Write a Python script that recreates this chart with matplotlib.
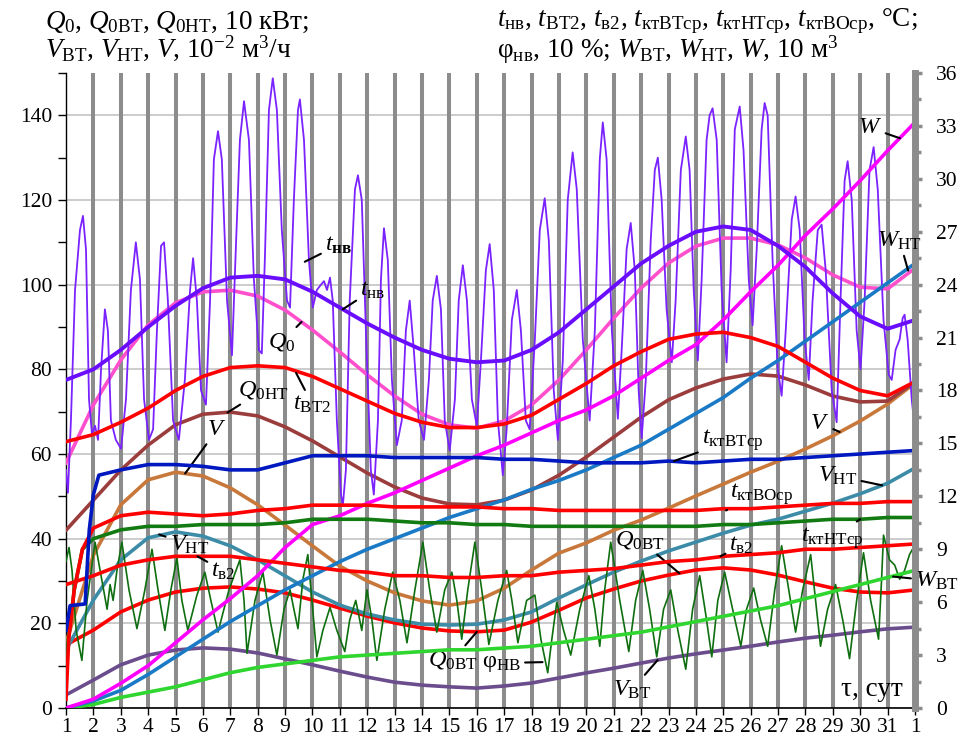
import numpy as np
import matplotlib.pyplot as plt
from matplotlib.ticker import MultipleLocator

plt.rcParams['font.family'] = ['Liberation Serif', 'DejaVu Serif']
plt.rcParams['mathtext.fontset'] = 'custom'
plt.rcParams['mathtext.rm'] = 'Liberation Serif'
plt.rcParams['mathtext.it'] = 'Liberation Serif:italic'
plt.rcParams['mathtext.bf'] = 'Liberation Serif:bold'

# сутки месяца (1 ... 31, далее 1-е число следующего)
days = list(range(1, 33))
day_labels = [str(d) for d in range(1, 32)] + ['1']

# ---- левая ось: Q (10 кВт), V (10^-2 м3/ч) ----
Q0 = [57.9, 71.6, 82.2, 90.5, 95.7, 98.3, 98.7, 97.3, 94.0, 89.3, 84.1, 78.7, 73.7, 69.4, 66.9, 66.1,
      67.8, 71.6, 77.5, 84.6, 92.1, 99.2, 105.1, 109.1, 111.0, 111.0, 109.4, 106.3, 102.3, 99.4, 99.0, 103.9]
Q0_NT = [42.0, 49.1, 56.2, 62.1, 66.9, 69.4, 69.9, 69.0, 66.4, 63.1, 59.3, 55.5, 52.2, 49.6, 48.2, 48.0,
         49.1, 51.5, 55.0, 59.3, 64.0, 68.7, 72.8, 75.6, 77.7, 78.9, 78.4, 76.3, 73.7, 72.3, 72.5, 77.0]
Q0_VT = [14.9, 18.4, 22.7, 25.5, 27.4, 28.3, 28.6, 28.1, 27.2, 25.5, 23.6, 21.7, 20.1, 18.9, 18.2, 18.0,
         18.4, 20.3, 23.1, 26.0, 28.1, 30.0, 31.4, 32.6, 33.1, 32.6, 31.4, 29.8, 28.3, 27.4, 27.2, 27.9]
V = [15.4, 36.1, 48.0, 53.9, 55.7, 54.8, 52.0, 48.0, 43.2, 38.3, 33.5, 30.0, 27.2, 25.3, 24.3, 25.3,
     28.3, 32.6, 36.6, 39.0, 42.0, 44.4, 47.2, 50.1, 52.9, 55.7, 58.3, 61.2, 64.3, 67.8, 71.8, 76.8]
V_NT = [13.7, 25.5, 35.0, 40.2, 41.6, 40.6, 38.3, 35.0, 31.2, 27.4, 24.3, 22.2, 20.8, 19.8, 19.6, 19.8,
        20.8, 22.7, 26.0, 29.1, 32.1, 34.7, 37.1, 39.2, 41.3, 43.2, 44.6, 46.5, 48.4, 50.6, 53.1, 56.7]
V_VT = [3.1, 6.6, 10.2, 12.5, 13.7, 14.2, 13.9, 13.0, 11.6, 10.2, 8.7, 7.3, 6.1, 5.4, 5.0, 4.7,
        5.2, 5.9, 7.1, 8.3, 9.4, 10.6, 11.8, 12.8, 13.7, 14.6, 15.6, 16.5, 17.2, 18.0, 18.7, 19.1]

# ---- правая ось: температуры (°C), φ (10 %), W (10 м3) ----
t_nv_avg = [18.6, 19.2, 20.3, 21.6, 22.8, 23.8, 24.4, 24.5, 24.3, 23.6, 22.7, 21.8, 21.0, 20.3, 19.8, 19.6,
            19.7, 20.3, 21.3, 22.6, 23.9, 25.2, 26.2, 27.0, 27.3, 27.1, 26.2, 25.0, 23.5, 22.2, 21.5, 22.0]
t_VT2 = [15.1, 15.5, 16.2, 17.0, 18.0, 18.8, 19.3, 19.4, 19.3, 18.8, 18.1, 17.4, 16.7, 16.2, 15.9, 15.9,
         16.1, 16.6, 17.5, 18.4, 19.4, 20.2, 20.9, 21.2, 21.3, 21.0, 20.5, 19.6, 18.7, 18.0, 17.7, 18.5]
t_v2 = [7.0, 7.5, 8.1, 8.4, 8.6, 8.6, 8.6, 8.4, 8.2, 8.0, 7.8, 7.7, 7.5, 7.5, 7.4, 7.4,
        7.5, 7.5, 7.7, 7.8, 7.9, 8.1, 8.3, 8.4, 8.6, 8.7, 8.8, 9.0, 9.0, 9.1, 9.2, 9.3]
W_VT = [0.0, 0.2, 0.6, 0.9, 1.2, 1.6, 2.0, 2.3, 2.5, 2.7, 2.9, 3.0, 3.1, 3.2, 3.3, 3.3,
        3.4, 3.5, 3.7, 3.9, 4.1, 4.3, 4.6, 4.9, 5.2, 5.5, 5.8, 6.2, 6.6, 7.0, 7.4, 7.8]
W_NT = [0.0, 0.4, 1.0, 1.9, 2.9, 3.9, 4.9, 5.8, 6.7, 7.5, 8.3, 9.0, 9.6, 10.2, 10.8, 11.3,
        11.8, 12.4, 12.9, 13.5, 14.2, 14.9, 15.8, 16.7, 17.6, 18.7, 19.7, 20.8, 21.9, 23.0, 24.1, 25.2]
W = [0.0, 0.5, 1.4, 2.4, 3.7, 5.0, 6.2, 7.5, 9.1, 10.4, 10.9, 11.6, 12.2, 12.9, 13.6, 14.3,
     14.9, 15.6, 16.3, 16.9, 17.7, 18.7, 19.7, 20.6, 22.0, 23.6, 25.1, 26.8, 28.3, 29.9, 31.6, 33.2]

# средние температуры теплоносителя в контурах (начало - выход на режим)
t_kt_VT_days = [1, 1.15, 1.7, 1.85, 2, 2.2] + list(range(3, 33))
t_kt_VT = [4.4, 5.8, 5.9, 10.1, 12.1, 13.2, 13.5, 13.8, 13.8, 13.7, 13.5, 13.5, 13.9, 14.3, 14.3, 14.3,
           14.2, 14.2, 14.2, 14.2, 14.1, 14.1, 14.0, 13.9, 13.9, 13.9, 14.0, 13.9, 14.0, 14.1, 14.1, 14.2,
           14.3, 14.4, 14.5, 14.6]
t_kt_VO_days = [1, 1.1, 1.3, 1.6, 2] + list(range(3, 33))
t_kt_VO = [0.5, 3.9, 6.7, 9.0, 10.2, 10.9, 11.1, 11.0, 10.9, 11.0, 11.2, 11.3, 11.5, 11.5, 11.5, 11.4,
           11.4, 11.4, 11.4, 11.3, 11.3, 11.2, 11.2, 11.2, 11.2, 11.2, 11.2, 11.3, 11.3, 11.4, 11.5, 11.6,
           11.6, 11.7, 11.7]
t_kt_NT_days = [1, 1.3, 1.6, 2] + list(range(3, 33))
t_kt_NT = [2.7, 6.7, 9.0, 9.6, 10.1, 10.3, 10.3, 10.4, 10.4, 10.4, 10.5, 10.7, 10.7, 10.7, 10.6, 10.5,
           10.5, 10.4, 10.4, 10.3, 10.3, 10.3, 10.3, 10.3, 10.3, 10.3, 10.4, 10.4, 10.5, 10.6, 10.7, 10.7,
           10.8, 10.8]

# температура наружного воздуха (экстремумы и промежуточные точки)
t_nv_time = [1.00, 1.07, 1.18, 1.33, 1.51, 1.62, 1.73, 1.84, 1.95, 2.06, 2.17, 2.28, 2.42, 2.53, 2.64, 2.82,
             3.01, 3.19, 3.37, 3.55, 3.70, 3.85, 4.03, 4.18, 4.32, 4.47, 4.58, 4.72, 4.91, 5.12, 5.34, 5.53,
             5.64, 5.78, 5.93, 6.11, 6.26, 6.40, 6.55, 6.69, 6.88, 7.06, 7.20, 7.35, 7.50, 7.68, 7.86, 8.04,
             8.15, 8.26, 8.41, 8.55, 8.70, 8.88, 9.07, 9.18, 9.32, 9.47, 9.54, 9.69, 9.87, 10.01, 10.16, 10.31,
             10.42, 10.53, 10.64, 10.74, 10.89, 11.04, 11.11, 11.22, 11.36, 11.55, 11.66, 11.80, 11.95, 12.13,
             12.24, 12.39, 12.50, 12.61, 12.75, 12.90, 13.08, 13.26, 13.41, 13.55, 13.70, 13.88, 14.07, 14.25,
             14.39, 14.54, 14.69, 14.83, 15.01, 15.20, 15.34, 15.49, 15.64, 15.82, 16.00, 16.15, 16.33, 16.47,
             16.62, 16.77, 16.95, 17.09, 17.28, 17.46, 17.61, 17.79, 17.93, 18.12, 18.30, 18.48, 18.63, 18.81,
             18.96, 19.14, 19.32, 19.50, 19.65, 19.87, 20.12, 20.31, 20.49, 20.60, 20.74, 20.93, 21.15, 21.29,
             21.47, 21.62, 21.77, 21.91, 22.02, 22.17, 22.35, 22.50, 22.61, 22.75, 22.93, 23.12, 23.26, 23.45,
             23.63, 23.77, 23.92, 24.07, 24.21, 24.39, 24.50, 24.61, 24.76, 24.94, 25.12, 25.27, 25.42, 25.60,
             25.74, 25.93, 26.07, 26.22, 26.40, 26.51, 26.62, 26.80, 26.99, 27.13, 27.28, 27.50, 27.64, 27.79,
             27.97, 28.12, 28.26, 28.45, 28.59, 28.74, 28.96, 29.14, 29.28, 29.43, 29.54, 29.69, 29.87, 30.01,
             30.16, 30.34, 30.49, 30.64, 30.85, 31.04, 31.15, 31.29, 31.44, 31.55, 31.62, 31.73, 31.88, 31.99]
t_nv = [13.5, 12.2, 16.3, 23.7, 27.1, 27.9, 26.0, 17.5, 15.5, 16.0, 15.2, 19.2, 22.6, 21.4, 16.3, 15.2,
        14.7, 17.5, 23.7, 26.4, 24.3, 17.5, 15.2, 15.8, 21.4, 26.2, 26.4, 23.1, 16.3, 15.2, 18.6, 23.7,
        25.5, 23.1, 18.0, 17.2, 23.1, 31.1, 32.7, 31.1, 23.1, 20.0, 26.0, 32.2, 34.4, 32.2, 24.3, 20.3,
        20.1, 25.4, 33.9, 35.7, 33.9, 27.1, 23.1, 22.7, 28.8, 33.9, 34.5, 32.2, 25.4, 22.7, 23.7, 24.0,
        24.2, 23.7, 24.4, 23.1, 16.3, 12.1, 11.5, 13.5, 23.1, 29.4, 30.2, 28.8, 21.4, 13.5,
        12.1, 16.3, 24.3, 27.2, 25.4, 18.6, 14.9, 16.3, 21.4, 23.1, 20.3, 16.3, 15.2, 18.6,
        23.1, 24.5, 22.6, 16.3, 14.6, 17.5, 23.1, 25.1, 23.1, 17.5, 16.0, 19.7, 24.8, 26.3,
        23.7, 16.3, 13.2, 15.8, 22.0, 23.7, 21.4, 16.3, 15.8, 20.9, 27.1, 28.9, 26.5, 18.0,
        15.2, 19.7, 28.8, 31.5, 29.4, 20.9, 16.3, 21.4, 31.1, 33.2, 31.1, 21.4, 16.4, 20.3,
        26.0, 27.5, 24.8, 18.0, 15.3, 18.6, 26.5, 30.5, 31.2, 28.8, 22.6, 19.6, 23.1, 30.5,
        32.4, 30.5, 23.7, 19.7, 24.3, 32.2, 33.6, 34.0, 32.2, 23.7, 19.6, 24.8, 32.8, 34.1,
        31.6, 24.3, 21.7, 26.0, 32.8, 34.3, 33.6, 25.4, 19.2, 17.7, 21.4, 27.7, 29.0, 27.1,
        20.9, 18.6, 23.1, 27.1, 27.4, 24.8, 18.0, 16.2, 23.1, 29.9, 31.0, 28.8, 21.4, 19.2,
        23.1, 30.5, 31.8, 29.4, 22.0, 18.9, 18.6, 20.3, 20.9, 22.1, 22.3, 20.9, 17.5, 15.9]

# относительная влажность наружного воздуха, 10 %
phi_time = [1.00, 1.11, 1.22, 1.37, 1.58, 1.77, 2.06, 2.28, 2.50, 2.61, 2.72, 2.86, 3.04, 3.30, 3.59, 3.88,
            4.14, 4.36, 4.61, 4.83, 5.05, 5.23, 5.45, 5.78, 6.07, 6.29, 6.55, 6.95, 7.35, 7.50, 7.61, 7.90,
            8.19, 8.45, 8.70, 8.96, 9.18, 9.32, 9.47, 9.65, 9.83, 9.98, 10.16, 10.38, 10.64, 10.89, 11.18,
            11.36, 11.58, 11.80, 11.99, 12.17, 12.35, 12.64, 12.93, 13.19, 13.45, 13.74, 14.03, 14.28, 14.54,
            14.83, 15.09, 15.27, 15.45, 15.67, 15.93, 16.18, 16.44, 16.77, 17.09, 17.28, 17.50, 17.82, 18.12,
            18.34, 18.59, 18.74, 18.92, 19.17, 19.43, 19.76, 20.09, 20.31, 20.49, 20.67, 20.89, 21.22, 21.55,
            21.80, 22.06, 22.31, 22.57, 22.82, 23.08, 23.34, 23.63, 23.88, 24.14, 24.36, 24.58, 24.80, 25.05,
            25.34, 25.64, 25.85, 26.11, 26.36, 26.62, 26.88, 27.13, 27.39, 27.64, 27.90, 28.19, 28.37, 28.55,
            28.81, 29.10, 29.36, 29.61, 29.87, 30.12, 30.38, 30.67, 30.78, 30.85, 31.07, 31.26, 31.44, 31.62,
            31.80, 31.91, 31.99]
phi_nv = [8.3, 9.1, 7.8, 4.4, 2.7, 6.1, 9.4, 7.5, 5.6, 7.0, 6.1, 7.8, 9.4, 6.7, 4.5, 6.7,
          9.0, 6.7, 4.4, 6.7, 8.5, 6.1, 4.4, 6.4, 7.7, 6.1, 4.3, 6.7, 8.4, 6.1, 3.1, 6.1,
          7.7, 5.0, 3.0, 5.6, 6.7, 5.6, 4.5, 7.3, 8.7, 6.1, 2.9, 4.4, 5.7, 4.4, 3.2,
          5.0, 6.1, 4.4, 6.7, 5.0, 2.7, 5.6, 7.7, 6.1, 3.7, 6.7, 9.4, 6.7, 4.3,
          6.7, 7.7, 6.1, 3.9, 6.7, 9.4, 6.7, 3.6, 6.1, 7.8, 6.1, 3.7, 6.1, 6.4,
          3.9, 2.0, 3.9, 6.0, 4.4, 3.0, 5.6, 7.5, 5.6, 3.5, 6.7, 9.4, 6.1, 3.2,
          6.1, 7.8, 5.6, 2.9, 5.6, 6.7, 4.4, 2.2, 5.6, 7.5, 5.3, 2.9, 6.1, 7.7,
          5.6, 3.5, 5.6, 6.8, 5.0, 3.5, 6.7, 9.2, 6.7, 4.3, 6.7, 8.7, 6.1, 3.5,
          5.6, 7.0, 5.0, 2.8, 6.1, 8.8, 6.1, 3.9, 7.3, 9.8, 8.4, 8.1, 7.3, 7.8,
          8.7, 9.0, 8.1]

fig = plt.figure(figsize=(9.63, 7.42), dpi=100)
ax = fig.add_axes([66 / 963, 34 / 742, 849 / 963, 635 / 742])
ax2 = ax.twinx()

# вертикальные полосы по суткам и сетка
for d in days[1:-1]:
    ax.axvline(d, color='#8c8c8c', lw=2.9, zorder=1)
ax.set_axisbelow(True)
ax.yaxis.grid(True, color='#c4c4c4', lw=1.2)

# левая ось
ax.plot(days, V_VT, color='#6b4c8c', lw=2.6, zorder=3)
ax.plot(days, Q0_VT, color='#ff0000', lw=2.6, zorder=3)
ax.plot(days, V_NT, color='#3c8ca8', lw=2.6, zorder=3)
ax.plot(days, V, color='#c8783a', lw=2.6, zorder=3)
ax.plot(days, Q0_NT, color='#9b3d3d', lw=2.6, zorder=3)
ax.plot(days, Q0, color='#ff4fcc', lw=2.6, zorder=3)

# правая ось
ax2.plot(phi_time, phi_nv, color='#0f6e0f', lw=1.2)
ax2.plot(t_nv_time, t_nv, color='#7a22ff', lw=1.3)
ax2.plot(days, W_VT, color='#2fd62f', lw=2.6)
ax2.plot(days, W_NT, color='#1a7ac6', lw=2.6)
ax2.plot(days, W, color='#ff00ff', lw=2.6)
ax2.plot(days, t_v2, color='#ff0000', lw=2.6)
ax2.plot(t_kt_NT_days, t_kt_NT, color='#117a11', lw=2.6)
ax2.plot(t_kt_VO_days, t_kt_VO, color='#ff0000', lw=2.6)
ax2.plot(t_kt_VT_days, t_kt_VT, color='#0018c0', lw=2.6)
ax2.plot(days, t_VT2, color='#ff0000', lw=2.6)
ax2.plot(days, t_nv_avg, color='#6a0dff', lw=2.8)

ax.set_xlim(1, 32)
ax.set_ylim(0, 150)
ax2.set_ylim(0, 36)

ax.set_xticks(days)
ax.set_xticklabels(day_labels)
ax.set_yticks(range(0, 141, 20))
ax.yaxis.set_minor_locator(MultipleLocator(10))
ax2.set_yticks(range(0, 37, 3))
ax2.yaxis.set_minor_locator(MultipleLocator(1.5))

ax.tick_params(axis='x', direction='out', length=5, width=1, labelsize=15.5, pad=2)
ax.tick_params(axis='y', which='major', direction='out', length=6, width=1, labelsize=15.5, pad=4)
ax.tick_params(axis='y', which='minor', direction='out', length=6, width=1)
ax2.tick_params(axis='y', which='major', direction='out', length=5, width=2.5, color='#8c8c8c',
                labelsize=15.5, pad=10)
ax2.tick_params(axis='y', which='minor', direction='out', length=4, width=2.5, color='#8c8c8c')

for a in (ax, ax2):
    a.spines['top'].set_visible(False)
ax.spines['right'].set_visible(False)
ax2.spines['left'].set_visible(False)
ax2.spines['bottom'].set_visible(False)
ax2.spines['right'].set_color('#8c8c8c')
ax2.spines['right'].set_linewidth(5)
ax.spines['left'].set_linewidth(1)
ax.spines['bottom'].set_linewidth(1.2)

# подписи осей
fs_t = 19.5
fig.text(45 / 963, 1 - 29 / 742, r'$Q_0$, $Q_{0\mathrm{ВТ}}$, $Q_{0\mathrm{НТ}}$, 10 кВт;', fontsize=fs_t)
fig.text(45 / 963, 1 - 57 / 742, r'$V_{\mathrm{ВТ}}$, $V_{\mathrm{НТ}}$, $V$, 10$^{-2}$ м$^3$/ч', fontsize=fs_t)
fig.text(497 / 963, 1 - 26 / 742,
         r'$t_{\mathrm{нв}}$, $t_{\mathrm{ВТ2}}$, $t_{\mathrm{в2}}$, $t_{\mathrm{ктВТср}}$, '
         r'$t_{\mathrm{ктНТср}}$, $t_{\mathrm{ктВОср}}$, °C;', fontsize=fs_t)
fig.text(497 / 963, 1 - 58 / 742,
         r'$\mathrm{φ}_{\mathrm{нв}}$, 10 %; $W_{\mathrm{ВТ}}$, $W_{\mathrm{НТ}}$, $W$, 10 м$^3$', fontsize=fs_t)
fig.text(872 / 963, 1 - 690 / 742, 'τ, сут', fontsize=fs_t, ha='center', va='center')

# выноски к кривым
fs_l = 17.5
lead = dict(arrowstyle='-', color='black', lw=1.5, shrinkA=1, shrinkB=0)
left_labels = [
    (r'$Q_0$', (9.6, 91.2), (8.88, 86.5)),
    (r'$Q_{0\mathrm{НТ}}$', (6.9, 69.8), (8.2, 75.1)),
    (r'$V$', (5.35, 55.4), (6.51, 65.7)),
    (r'$V_{\mathrm{НТ}}$', (4.4, 41.0), (5.5, 38.5)),
    (r'$Q_{0\mathrm{ВТ}}$', (16.0, 18.0), (15.12, 11.3)),
    (r'$V_{\mathrm{ВТ}}$', (22.6, 11.3), (21.66, 4.3)),
    (r'$Q_{0\mathrm{ВТ}}$', (23.4, 31.8), (21.95, 39.7)),
    (r'$V$', (29.25, 65.2), (28.52, 67.3)),
    (r'$V_{\mathrm{НТ}}$', (30.8, 52.6), (29.18, 54.8)),
]
for txt, xy, xyt in left_labels:
    ax.annotate(txt, xy=xy, xytext=xyt, fontsize=fs_l, ha='center', va='center',
                arrowprops=lead, zorder=6, annotation_clip=False)

right_labels = [
    (r'$t_{\mathbf{нв}}$', (9.72, 25.3), (10.95, 26.25)),
    (r'$t_{\mathrm{нв}}$', (11.1, 22.6), (12.2, 23.7)),
    (r'$t_{\mathrm{ВТ2}}$', (9.4, 19.0), (10.0, 17.2)),
    (r'$t_{\mathrm{в2}}$', (5.8, 8.6), (6.75, 7.77)),
    (r'$\mathrm{φ}_{\mathrm{НВ}}$', (18.4, 2.6), (16.9, 2.55)),
    (r'$t_{\mathrm{в2}}$', (24.9, 8.6), (25.67, 9.24)),
    (r'$t_{\mathrm{ктНТср}}$', (30.0, 10.7), (28.96, 9.64)),
    (r'$W_{\mathrm{ВТ}}$', (31.2, 7.45), (32.8, 7.2)),
    (r'$t_{\mathrm{ктВОср}}$', (25.1, 11.2), (26.4, 12.1)),
    (r'$t_{\mathrm{ктВТср}}$', (23.2, 14.0), (25.34, 15.2)),
    (r'$W$', (31.45, 32.3), (30.34, 32.9)),
    (r'$W_{\mathrm{НТ}}$', (31.75, 24.8), (31.44, 26.5)),
]
for txt, xy, xyt in right_labels:
    ax2.annotate(txt, xy=xy, xytext=xyt, fontsize=fs_l, ha='center', va='center',
                 arrowprops=lead, zorder=6, annotation_clip=False)

fig.savefig('out.png', dpi=100)
